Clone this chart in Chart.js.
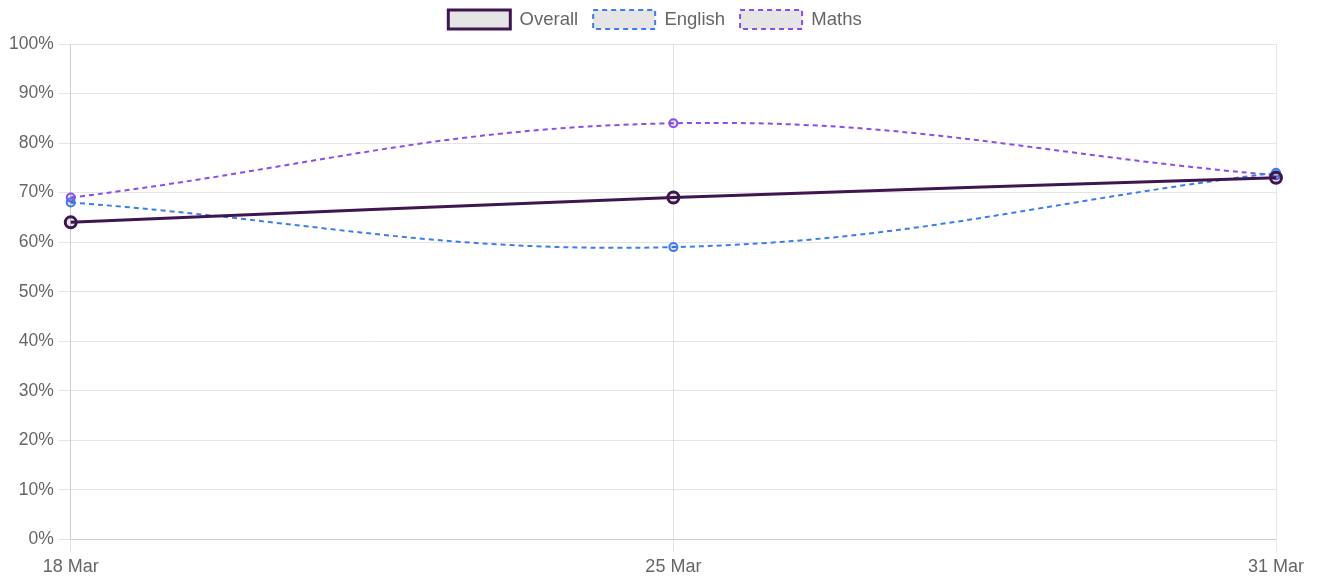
<!DOCTYPE html>
<html>
<head>
<meta charset="utf-8">
<script src="https://cdn.jsdelivr.net/npm/chart.js@4/dist/chart.umd.min.js"></script>
<style>
  html, body { margin: 0; padding: 0; background: #fff; }
  #wrap { width: 1322px; height: 580px; position: relative; }
</style>
</head>
<body>
<div id="wrap"><canvas id="progressChart"></canvas></div>
<script>
'use strict';

// data
const weeks    = ['18 Mar', '25 Mar', '31 Mar'];
const overall  = [64, 69, 73];
const english  = [68, 59, 74];
const maths    = [69, 84, 73.5];

Chart.defaults.font.size = 17.5;
Chart.defaults.color = '#666';

// a little extra room under the legend, and nudge it right a bit
const legendTweak = {
  id: 'legendTweak',
  beforeInit(chart) {
    const fit = chart.legend.fit;
    chart.legend.fit = function () {
      fit.call(this);
      this.height += 5;
    };
  },
  afterLayout(chart) {
    chart.legend.left += 15;
    chart.legend.right += 15;
  }
};

new Chart(document.getElementById('progressChart'), {
  type: 'line',
  data: {
    labels: weeks,
    datasets: [
      {
        label: 'Overall',
        data: overall,
        borderColor: '#3f1650',
        backgroundColor: 'rgba(0,0,0,0.1)',
        borderWidth: 3,
        pointRadius: 5.5,
        pointBorderWidth: 3,
        tension: 0.4,
      },
      {
        label: 'English',
        data: english,
        borderColor: '#3b7cf4',
        backgroundColor: 'rgba(0,0,0,0.1)',
        borderWidth: 2,
        borderDash: [5, 4],
        pointRadius: 4,
        pointBorderWidth: 2,
        tension: 0.4,
      },
      {
        label: 'Maths',
        data: maths,
        borderColor: '#8a4cf0',
        backgroundColor: 'rgba(0,0,0,0.1)',
        borderWidth: 2,
        borderDash: [5, 4],
        pointRadius: 4,
        pointBorderWidth: 2,
        tension: 0.4,
      }
    ]
  },
  plugins: [legendTweak],
  options: {
    responsive: true, maintainAspectRatio: false,
    animation: false,
    layout: { padding: { left: 4, right: 46, top: -5, bottom: -3 } },
    plugins: {
      legend: {
        labels: { boxWidth: 62, boxHeight: 19, padding: 15, font: { size: 18.5 } }
      },
      tooltip: { enabled: false }
    },
    scales: {
      y: {
        min: 0, max: 100,
        grid: { tickLength: 12 },
        ticks: { stepSize: 10, padding: 5, callback: v => v + '%' }
      },
      x: {
        grid: { tickLength: 12 },
        ticks: { padding: 5, font: { size: 18 } }
      }
    }
  }
});
</script>
</body>
</html>
